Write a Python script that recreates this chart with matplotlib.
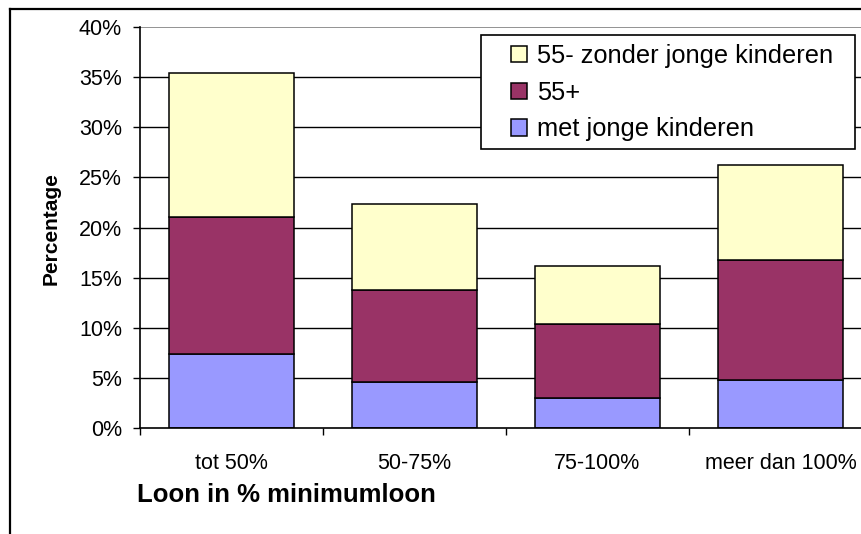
import matplotlib
matplotlib.use("Agg")
import matplotlib.pyplot as plt
from matplotlib.lines import Line2D
from matplotlib.patches import Rectangle
import numpy as np

plt.rcParams['font.family'] = ['Liberation Sans', 'DejaVu Sans']

categories = ["tot 50%", "50-75%", "75-100%", "meer dan 100%"]
met_jonge_kinderen = [7.4, 4.6, 3.0, 4.8]
vijfenvijftig_plus = [13.6, 9.2, 7.4, 12.0]
zonder_jonge_kinderen = [14.4, 8.5, 5.8, 9.4]
yticks = [0, 5, 10, 15, 20, 25, 30, 35, 40]

W, H = 862, 534
fig = plt.figure(figsize=(W / 100, H / 100), dpi=100)

# plot area runs past the right edge of the picture, like the original
ax = fig.add_axes([140 / W, 106 / H, 732 / W, 401 / H])

x = np.arange(len(categories))
bw = 0.68
b1 = ax.bar(x, met_jonge_kinderen, bw, color='#9999FF', edgecolor='black', linewidth=1.1,
            label='met jonge kinderen', zorder=3)
bot2 = np.array(met_jonge_kinderen)
b2 = ax.bar(x, vijfenvijftig_plus, bw, bottom=bot2, color='#993366', edgecolor='black',
            linewidth=1.1, label='55+', zorder=3)
bot3 = bot2 + np.array(vijfenvijftig_plus)
b3 = ax.bar(x, zonder_jonge_kinderen, bw, bottom=bot3, color='#FFFFCC', edgecolor='black',
            linewidth=1.1, label='55- zonder jonge kinderen', zorder=3)

ax.set_xlim(-0.5, 3.5)
ax.set_ylim(0, 40)
ax.set_yticks(yticks)
ax.set_yticklabels([f"{t}%" for t in yticks])
for t in yticks[1:-1]:
    ax.axhline(t, color='black', linewidth=1.0, zorder=1)
ax.axhline(40, color='#808080', linewidth=1.2, zorder=1)

ax.set_xticks(x)
ax.set_xticklabels(categories)
ax.set_xticks(np.arange(-0.5, 4.0, 1.0), minor=True)
ax.tick_params(axis='x', which='major', length=0, pad=18, labelsize=15.5)
ax.tick_params(axis='x', which='minor', length=5, width=1.0, direction='out')
ax.tick_params(axis='y', length=5, width=1.0, direction='out', pad=8, labelsize=15.5)

for s in ['top', 'right']:
    ax.spines[s].set_visible(False)
ax.spines['left'].set_linewidth(1.2)
ax.spines['bottom'].set_linewidth(1.2)
ax.spines['left'].set_zorder(4)
ax.spines['bottom'].set_zorder(4)

# legend box drawn by hand so its padding matches the original
ax.add_patch(Rectangle((481 / W, 1 - 149 / H), 374 / W, 114 / H, transform=fig.transFigure,
                       facecolor='white', edgecolor='black', linewidth=1.2, zorder=5,
                       clip_on=False))
leg = ax.legend([b3, b2, b1], ['55- zonder jonge kinderen', '55+', 'met jonge kinderen'],
                loc='upper left', bbox_to_anchor=(511 / W, 1 - 44 / H),
                bbox_transform=fig.transFigure, fontsize=18.3, frameon=False,
                borderaxespad=0, handlelength=0.62, handleheight=0.62,
                handletextpad=0.4, labelspacing=0.5, borderpad=0)
leg.set_zorder(6)

fig.text(137 / W, 1 - 495 / H, "Loon in % minimumloon", fontsize=18.5, fontweight='bold',
         ha='left', va='center')
fig.text(51 / W, 1 - 229 / H, "Percentage", fontsize=15, fontweight='bold',
         rotation=90, ha='center', va='center')

# outer chart frame (only top and left edges show)
fig.add_artist(Line2D([10 / W, 10 / W], [0, 1 - 9 / H], color='black', linewidth=1.6))
fig.add_artist(Line2D([10 / W, 1], [1 - 9 / H, 1 - 9 / H], color='black', linewidth=1.6))

fig.savefig("out.png", dpi=100)
